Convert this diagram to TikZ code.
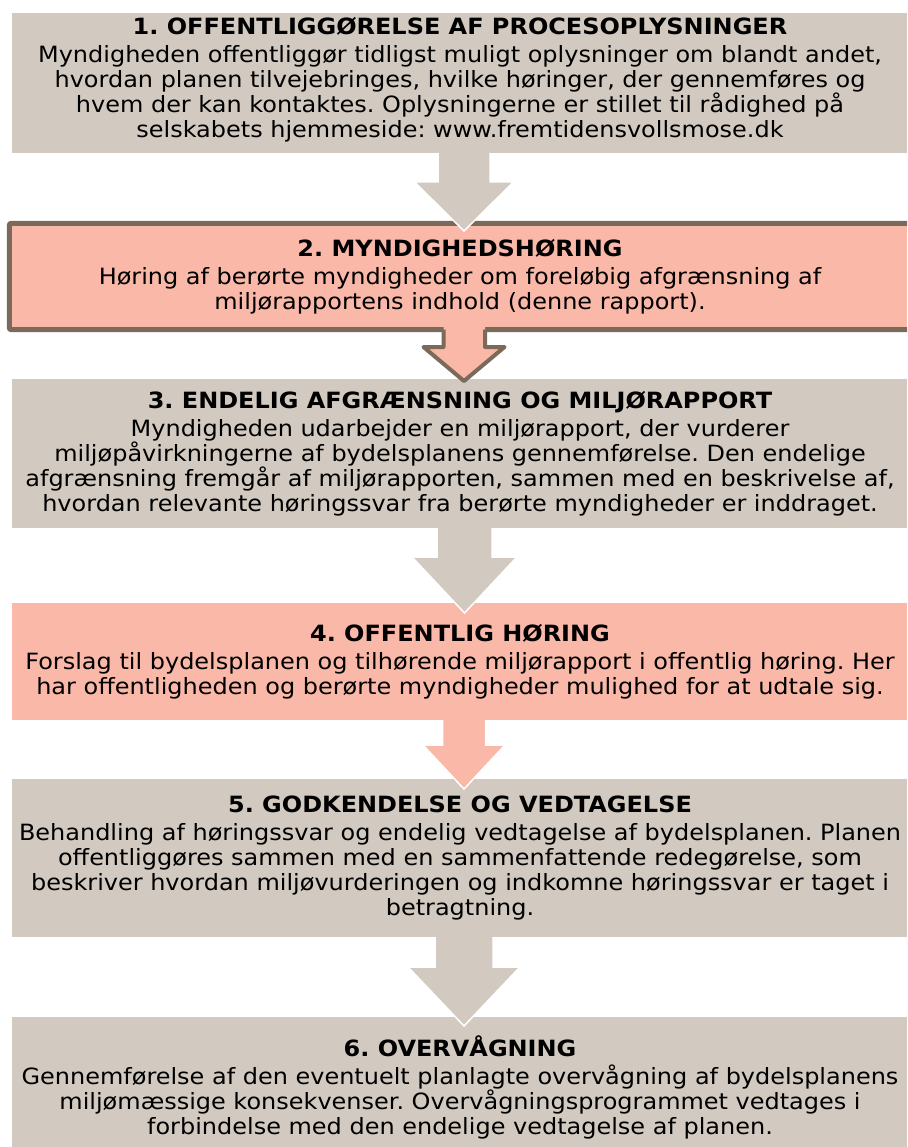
\documentclass[tikz,border=0pt]{standalone}
\usepackage{fontspec}
\setmainfont{DejaVu Sans}[FakeStretch=1.07]
\usetikzlibrary{calc}
\definecolor{boxgrey}{HTML}{D2CAC0}
\definecolor{boxsalmon}{HTML}{F9B8A8}
\definecolor{boxbrown}{HTML}{7B6A5A}
\begin{document}
\frenchspacing
\begin{tikzpicture}[x=1pt,y=-1pt,
  box/.style={rectangle, inner sep=0pt},
  greybox/.style={box, fill=boxgrey},
  salmonbox/.style={box, fill=boxsalmon},
  boxtext/.style={inner sep=0pt, align=center, font=\fontsize{22.4}{25}\selectfont\frenchspacing},
  greyarrow/.style={fill=boxgrey, draw=white, line width=1.5pt},
  salmonarrow/.style={fill=boxsalmon, draw=white, line width=1.5pt},
  brownline/.style={draw=boxbrown, line width=5pt},
  brownarrowline/.style={draw=boxbrown, line width=4pt, line join=round},
]
\clip (0,0) rectangle (907,1147);
\useasboundingbox (0,0) rectangle (907,1147);

% boxes
\node[greybox, minimum width=895, minimum height=140] (b1) at (459.5,83) {};
\node[salmonbox, minimum width=897.5, minimum height=106] (b2) at (458.25,276.5) {};
\draw[brownline, rounded corners=2pt] ($(b2.north east)+(20,0)$) -- (b2.north west) -- (b2.south west) -- ($(b2.south east)+(20,0)$);
\node[greybox, minimum width=895, minimum height=149] (b3) at (459.5,453.5) {};
\node[salmonbox, minimum width=895, minimum height=117] (b4) at (459.5,661.5) {};
\node[greybox, minimum width=895, minimum height=158] (b5) at (459.5,858) {};
\node[greybox, minimum width=895, minimum height=136] (b6) at (459.5,1085) {};

% texts
\node[boxtext] (b1t) at (460,80)
 {\textbf{1. OFFENTLIGGØRELSE AF PROCESOPLYSNINGER}\\[3pt]
  Myndigheden offentliggør tidligst muligt oplysninger om blandt andet,\\
  hvordan planen tilvejebringes, hvilke høringer, der gennemføres og\\
  hvem der kan kontaktes. Oplysningerne er stillet til rådighed på\\
  selskabets hjemmeside: www.fremtidensvollsmose.dk};

\node[boxtext] (b2t) at (460,276.5)
 {\textbf{2. MYNDIGHEDSHØRING}\\[3pt]
  Høring af berørte myndigheder om foreløbig afgrænsning af\\
  miljørapportens indhold (denne rapport).};

\node[boxtext] (b3t) at (460,453.5)
 {\textbf{3. ENDELIG AFGRÆNSNING OG MILJØRAPPORT}\\[3pt]
  Myndigheden udarbejder en miljørapport, der vurderer\\
  miljøpåvirkningerne af bydelsplanens gennemførelse. Den endelige\\
  afgrænsning fremgår af miljørapporten, sammen med en beskrivelse af,\\
  hvordan relevante høringssvar fra berørte myndigheder er inddraget.};

\node[boxtext] (b4t) at (460,662)
 {\textbf{4. OFFENTLIG HØRING}\\[3pt]
  Forslag til bydelsplanen og tilhørende miljørapport i offentlig høring. Her\\
  har offentligheden og berørte myndigheder mulighed for at udtale sig.};

\node[boxtext] (b5t) at (460,858.5)
 {\textbf{5. GODKENDELSE OG VEDTAGELSE}\\[3pt]
  Behandling af høringssvar og endelig vedtagelse af bydelsplanen. Planen\\
  offentliggøres sammen med en sammenfattende redegørelse, som\\
  beskriver hvordan miljøvurderingen og indkomne høringssvar er taget i\\
  betragtning.};

\node[boxtext] (b6t) at (460,1087)
 {\textbf{6. OVERVÅGNING}\\[3pt]
  Gennemførelse af den eventuelt planlagte overvågning af bydelsplanens\\
  miljømæssige konsekvenser. Overvågningsprogrammet vedtages i\\
  forbindelse med den endelige vedtagelse af planen.};

% arrows
\coordinate (t1) at (464,231);
\coordinate (t2) at (464,381);
\coordinate (t3) at (464.5,613);
\coordinate (t4) at (464,789);
\coordinate (t5) at (464,1026);

% arrow 1: b1 -> b2
\filldraw[greyarrow] (438,153) -- (438,182) -- (414.5,182) -- (t1) -- (513.5,182) -- (490,182) -- (490,153);
% arrow 2: b2 -> b3
\fill[boxsalmon] (443.5,326) -- (443.5,347) -- (423.5,347) -- (t2) -- (504.5,347) -- (485,347) -- (485,326) -- cycle;
\draw[brownarrowline] (443.5,329.5) -- (443.5,347) -- (423.5,347) -- (t2) -- (504.5,347) -- (485,347) -- (485,329.5);
% arrow 3: b3 -> b4
\filldraw[greyarrow] (437,528) -- (437,557) -- (412,557) -- (t3) -- (517,557) -- (492,557) -- (492,528);
% arrow 4: b4 -> b5
\filldraw[salmonarrow] (442.5,720) -- (442.5,745) -- (423,745) -- (t4) -- (505,745) -- (485.5,745) -- (485.5,720);
% arrow 5: b5 -> b6
\filldraw[greyarrow] (435,937) -- (435,967) -- (408,967) -- (t5) -- (520,967) -- (493,967) -- (493,937);
\end{tikzpicture}
\end{document}
